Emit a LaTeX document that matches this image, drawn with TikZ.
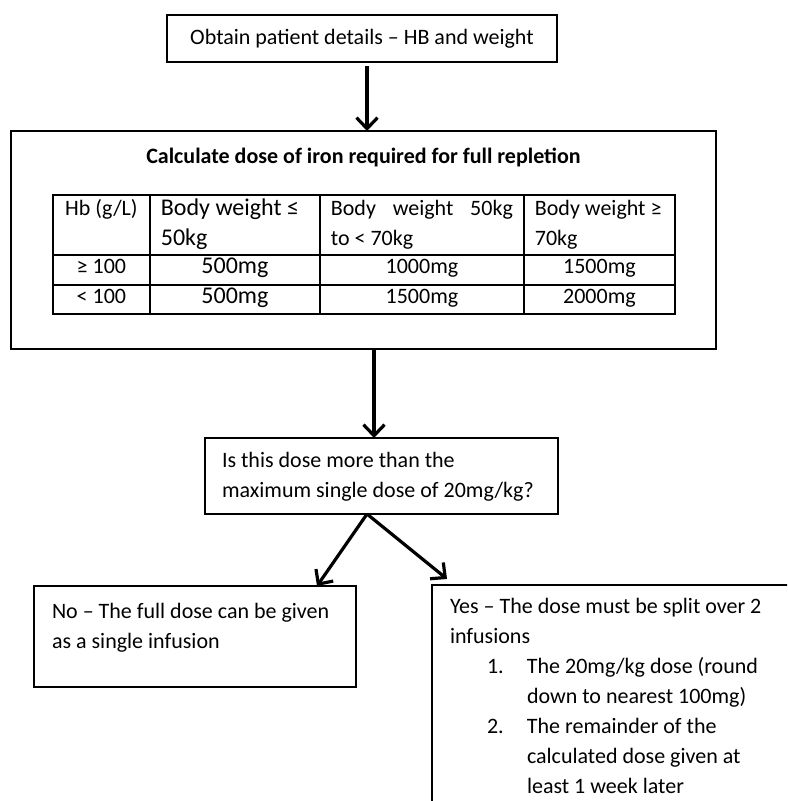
\documentclass[tikz,border=0pt]{standalone}
\usepackage{fontspec}
\setmainfont{Carlito}
\usepackage{tikz}
\usetikzlibrary{positioning,arrows.meta}

\begin{document}
\begin{tikzpicture}[x=0.5pt,y=-0.5pt,
font=\fontsize{11}{15}\selectfont,
box/.style={draw,line width=0.9pt,rectangle,inner sep=0pt,outer sep=0pt},
cell/.style={draw,line width=0.9pt,rectangle,inner xsep=5.5pt,inner ysep=0pt,outer sep=0pt},
arr/.style={line width=1.6pt,-{Straight Barb[length=5.5pt,width=10.5pt]}}]
\useasboundingbox (0,0) rectangle (787,801);
\clip (0,0) rectangle (787,801);

\node (obtain) [box,minimum width=195pt,minimum height=23.5pt] at (362,38.5)
    {Obtain patient details -- HB and weight};

\node (calc) [box,anchor=north west,minimum width=352.5pt,minimum height=109pt] at (11,131) {};
\node (calctitle) at ([yshift=-13pt]calc.north)
    {\textbf{Calculate dose of iron required for full repletion}};

\matrix (dosetab) [anchor=north west,inner sep=0pt,outer sep=0pt,row sep=-0.9pt,column sep=-0.9pt,
  column 1/.style={nodes={text width=37.5pt}},
  column 2/.style={nodes={text width=74pt,font=\fontsize{12}{15}\selectfont}},
  column 3/.style={nodes={text width=91pt}},
  column 4/.style={nodes={text width=64.5pt}},
  row 1/.style={nodes={text height=10.5pt,text depth=19.5pt}},
  row 2/.style={nodes={text height=9.5pt,text depth=5.5pt}},
  row 3/.style={nodes={text height=9.5pt,text depth=5pt}}]
  at ([xshift=20.5pt,yshift=-31.5pt]calc.north west) {
\node (hbhead) [cell,align=flush center] {Hb (g/L)};
&
\node (lowwt) [cell,align=flush left] {Body weight ≤\\50kg};
&
\node (midwt) [cell,align=flush left] {Body\hfill weight\hfill 50kg\\to < 70kg};
&
\node (highwt) [cell,align=flush left] {Body weight ≥\\70kg};
\\
\node (hbhigh) [cell,align=flush center] {≥ 100};
&
\node (hhlow) [cell,align=flush center] {500mg};
&
\node (hhmid) [cell,align=flush center] {1000mg};
&
\node (hhhigh) [cell,align=flush center] {1500mg};
\\
\node (hblow) [cell,align=flush center] {< 100};
&
\node (hllow) [cell,align=flush center] {500mg};
&
\node (hlmid) [cell,align=flush center] {1500mg};
&
\node (hlhigh) [cell,align=flush center] {2000mg};
\\
};

\node (decide) [box,anchor=north west,text width=159.5pt,inner xsep=8.5pt,align=flush left,
    text height=14.5pt,text depth=23.5pt] at (205,438)
    {Is this dose more than the\\maximum single dose of 20mg/kg?};

\node (nobox) [box,anchor=north west,text width=143pt,inner xsep=9pt,align=flush left,
    text height=16pt,text depth=34.5pt] at (34,586)
    {No -- The full dose can be given\\as a single infusion};

\node (yesbox) [box,anchor=north west,text width=180pt,inner xsep=9pt,align=flush left,
    text height=14pt,text depth=150pt] at (432,585)
    {Yes -- The dose must be split over 2\\infusions\\
    \hspace*{18.5pt}\makebox[20pt][l]{1.}The 20mg/kg dose (round\\
    \hspace*{38.5pt}down to nearest 100mg)\\
    \hspace*{18.5pt}\makebox[20pt][l]{2.}The remainder of the\\
    \hspace*{38.5pt}calculated dose given at\\
    \hspace*{38.5pt}least 1 week later};

\draw[arr] ([xshift=2.5pt,yshift=-2pt]obtain.south) -- ([xshift=2.5pt]obtain.south |- calc.north);
\draw[arr] ([xshift=5.25pt]calc.south) -- ([xshift=5.25pt]calc.south |- decide.north);
\draw[arr] ([xshift=-7.25pt]decide.south) -- ([xshift=-19.5pt]nobox.north east);
\draw[arr] ([xshift=-7.25pt]decide.south) -- ([xshift=7.5pt,yshift=3pt]yesbox.north west);
\end{tikzpicture}
\end{document}
